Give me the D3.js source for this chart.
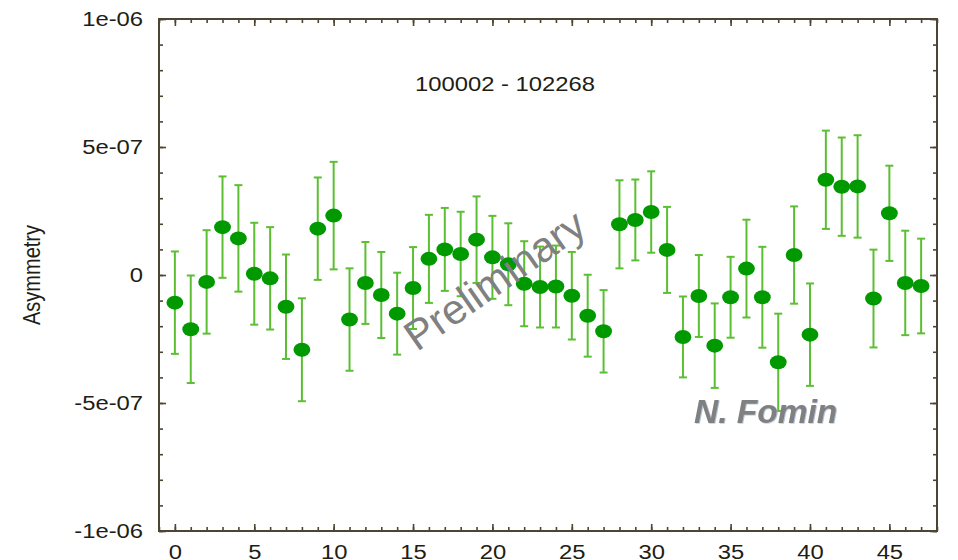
<!DOCTYPE html>
<html>
<head>
<meta charset="utf-8">
<script src="https://cdn.jsdelivr.net/npm/d3@7/dist/d3.min.js"></script>
<style>
  body { margin: 0; background: #fff; }
  text { font-family: "Liberation Sans", Arial, Helvetica, sans-serif; }
</style>
</head>
<body>
<div id="chart"></div>
<script>
/*
 * Datos
 */
// numero de bin (eje x)
var bins = [0, 1, 2, 3, 4, 5, 6, 7, 8, 9, 10, 11, 12, 13, 14, 15, 16, 17, 18, 19, 20, 21, 22, 23,
            24, 25, 26, 27, 28, 29, 30, 31, 32, 33, 34, 35, 36, 37, 38, 39, 40, 41, 42, 43, 44, 45, 46, 47];
// asimetria, en unidades de 1e-7
var asimetria = [-1.08, -2.12, -0.27, 1.87, 1.43, 0.05, -0.13, -1.24, -2.92, 1.81, 2.32, -1.74,
                 -0.31, -0.78, -1.51, -0.51, 0.63, 1.00, 0.82, 1.38, 0.69, 0.42, -0.34, -0.47,
                 -0.45, -0.81, -1.59, -2.20, 1.98, 2.15, 2.46, 0.98, -2.42, -0.82, -2.76, -0.87,
                 0.25, -0.87, -3.41, 0.78, -2.33, 3.72, 3.45, 3.46, -0.92, 2.41, -0.31, -0.43];
// error, en unidades de 1e-7
var errores = [2.00, 2.10, 2.02, 1.98, 2.08, 1.99, 2.00, 2.04, 2.01, 2.00, 2.10, 2.00,
               1.60, 1.68, 1.60, 1.60, 1.72, 1.62, 1.65, 1.69, 1.62, 1.60, 1.66, 1.58,
               1.60, 1.71, 1.60, 1.61, 1.72, 1.58, 1.59, 1.68, 1.58, 1.60, 1.65, 1.58,
               1.91, 1.97, 1.90, 1.90, 2.00, 1.92, 1.92, 2.00, 1.91, 1.86, 2.04, 1.85];
var unidad = 1e-7;

// ticks
var xTicksMayores = [0, 5, 10, 15, 20, 25, 30, 35, 40, 45];
var yTicksMayores = [-1e-6, -5e-7, 0, 5e-7, 1e-6];
var yTickLabels = ["-1e-06", "-5e-07", "0", "5e-07", "1e-06"];

var titulo = "100002 - 102268";
var yLabel = "Asymmetry";

/*
 * Configuracion
 */
var svgWidth = 958;
var svgHeight = 560;
var margin = { left: 159, right: 21, top: 19, bottom: 29 };
var colorEje = "#4d4433";
var colorTexto = "#221d14";
var colorPunto = "#009900";
var colorError = "#5cbf33";
var estirar = "scale(1.19,1)";   // el grafico original esta estirado en horizontal

var svg = d3.select("#chart")
  .append("svg")
  .attr("width", svgWidth)
  .attr("height", svgHeight);

// sombrita azulada para la firma
var sombra = svg.append("defs").append("filter")
  .attr("id", "sombra")
  .attr("x", "-5%").attr("y", "-20%")
  .attr("width", "110%").attr("height", "140%");
sombra.append("feDropShadow")
  .attr("dx", 1)
  .attr("dy", 0.6)
  .attr("stdDeviation", 0.4)
  .attr("flood-color", "#9db3cf")
  .attr("flood-opacity", 0.8);

var x = d3.scaleLinear()
  .domain([-1, 48])
  .range([margin.left, svgWidth - margin.right]);

var y = d3.scaleLinear()
  .domain([-1e-6, 1e-6])
  .range([svgHeight - margin.bottom, margin.top]);

var xMenores = d3.range(-1, 49);
var yMenores = d3.range(-10, 11).map(function(d) { return d * 1e-7; });

/*
 * Ejes (ticks hacia adentro, en los cuatro lados)
 */
function estiloEje(g) {
  g.select(".domain").remove();
  g.selectAll("line").attr("stroke", colorEje).attr("stroke-width", 1.6);
}

// abajo
svg.append("g")
  .attr("transform", "translate(0," + y.range()[0] + ")")
  .call(d3.axisBottom(x).tickValues(xMenores).tickSizeInner(-4).tickSizeOuter(0).tickFormat(""))
  .call(estiloEje);
var ejeX = svg.append("g")
  .attr("transform", "translate(0," + y.range()[0] + ")")
  .call(d3.axisBottom(x).tickValues(xTicksMayores).tickSizeInner(-7).tickSizeOuter(0).tickPadding(14).tickFormat(d3.format("d")))
  .call(estiloEje);
ejeX.selectAll("text")
  .attr("fill", colorTexto)
  .style("font-size", "20px")
  .attr("transform", estirar);

// arriba
svg.append("g")
  .attr("transform", "translate(0," + y.range()[1] + ")")
  .call(d3.axisTop(x).tickValues(xMenores).tickSizeInner(-4).tickSizeOuter(0).tickFormat(""))
  .call(estiloEje);
svg.append("g")
  .attr("transform", "translate(0," + y.range()[1] + ")")
  .call(d3.axisTop(x).tickValues(xTicksMayores).tickSizeInner(-7).tickSizeOuter(0).tickFormat(""))
  .call(estiloEje);

// izquierda
svg.append("g")
  .attr("transform", "translate(" + x.range()[0] + ",0)")
  .call(d3.axisLeft(y).tickValues(yMenores).tickSizeInner(-4).tickSizeOuter(0).tickFormat(""))
  .call(estiloEje);
var ejeY = svg.append("g")
  .attr("transform", "translate(" + x.range()[0] + ",0)")
  .call(d3.axisLeft(y).tickValues(yTicksMayores).tickSizeInner(-7).tickSizeOuter(0)
    .tickFormat(function(d, i) { return yTickLabels[i]; }))
  .call(estiloEje);
ejeY.selectAll("text")
  .attr("fill", colorTexto)
  .attr("x", -13.4)
  .style("font-size", "20px")
  .attr("transform", estirar);

// derecha
svg.append("g")
  .attr("transform", "translate(" + x.range()[1] + ",0)")
  .call(d3.axisRight(y).tickValues(yMenores).tickSizeInner(-4).tickSizeOuter(0).tickFormat(""))
  .call(estiloEje);
svg.append("g")
  .attr("transform", "translate(" + x.range()[1] + ",0)")
  .call(d3.axisRight(y).tickValues(yTicksMayores).tickSizeInner(-7).tickSizeOuter(0).tickFormat(""))
  .call(estiloEje);

// marco
svg.append("rect")
  .attr("x", x.range()[0])
  .attr("y", y.range()[1])
  .attr("width", x.range()[1] - x.range()[0])
  .attr("height", y.range()[0] - y.range()[1])
  .attr("fill", "none")
  .attr("stroke", colorEje)
  .attr("stroke-width", 2);

/*
 * Puntos con barras de error
 */
var datos = bins.map(function(b, i) {
  return { bin: b, val: asimetria[i] * unidad, err: errores[i] * unidad };
});

var puntos = svg.append("g").selectAll("g")
  .data(datos)
  .enter().append("g");

puntos.append("line")
  .attr("x1", function(d) { return x(d.bin); })
  .attr("x2", function(d) { return x(d.bin); })
  .attr("y1", function(d) { return y(d.val + d.err); })
  .attr("y2", function(d) { return y(d.val - d.err); })
  .attr("stroke", colorError)
  .attr("stroke-width", 2);

// tapitas arriba y abajo
[1, -1].forEach(function(s) {
  puntos.append("line")
    .attr("x1", function(d) { return x(d.bin) - 4; })
    .attr("x2", function(d) { return x(d.bin) + 4; })
    .attr("y1", function(d) { return y(d.val + s * d.err); })
    .attr("y2", function(d) { return y(d.val + s * d.err); })
    .attr("stroke", colorError)
    .attr("stroke-width", 2);
});

puntos.append("ellipse")
  .attr("cx", function(d) { return x(d.bin); })
  .attr("cy", function(d) { return y(d.val); })
  .attr("rx", 8.4)
  .attr("ry", 7)
  .attr("fill", colorPunto);

/*
 * Textos
 */
svg.append("text")
  .attr("transform", "translate(505,91) " + estirar)
  .attr("text-anchor", "middle")
  .attr("fill", colorTexto)
  .style("font-size", "20px")
  .text(titulo);

svg.append("text")
  .attr("transform", "translate(40,275) " + estirar + " rotate(-90)")
  .attr("text-anchor", "middle")
  .attr("fill", colorTexto)
  .style("font-size", "20px")
  .text(yLabel);

// marca de agua
svg.append("text")
  .attr("transform", "translate(503,292) rotate(-35)")
  .attr("text-anchor", "middle")
  .attr("fill", "#808080")
  .style("font-size", "42px")
  .text("Preliminary");

svg.append("text")
  .attr("x", 694)
  .attr("y", 423)
  .attr("fill", "#808080")
  .attr("filter", "url(#sombra)")
  .style("font-size", "33.5px")
  .style("font-weight", "bold")
  .style("font-style", "italic")
  .text("N. Fomin");
</script>
</body>
</html>
